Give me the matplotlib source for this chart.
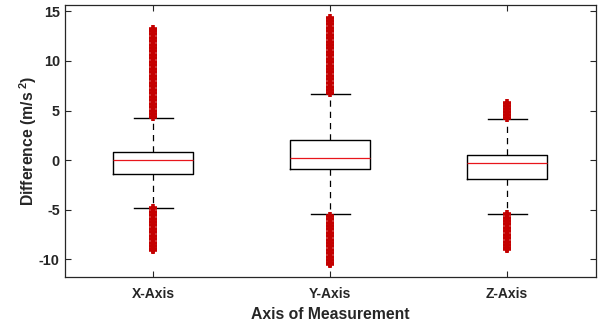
import matplotlib
matplotlib.use("Agg")
import matplotlib.pyplot as plt

categories = ["X-Axis", "Y-Axis", "Z-Axis"]
medians = [0.0, 0.17, -0.27]
q1 = [-1.41, -0.9, -1.85]
q3 = [0.84, 2.08, 0.5]
whisk_lo = [-4.77, -5.47, -5.4]
whisk_hi = [4.26, 6.65, 4.1]

x_out_hi = [4.35, 4.62, 4.98, 5.31, 5.7, 6.02, 6.41, 6.77, 7.1, 7.46, 7.8, 8.17, 8.5,
            8.88, 9.21, 9.57, 9.9, 10.26, 10.6, 10.95, 11.3, 11.63, 12.0, 12.33, 12.68,
            13.0, 13.2]
x_out_lo = [-4.85, -5.18, -5.52, -5.9, -6.23, -6.58, -6.92, -7.27, -7.6, -7.95, -8.3,
            -8.62, -8.9, -9.0]
y_out_hi = [6.75, 7.08, 7.42, 7.8, 8.13, 8.47, 8.84, 9.18, 9.52, 9.88, 10.21, 10.57,
            10.92, 11.26, 11.6, 11.95, 12.3, 12.64, 12.98, 13.33, 13.67, 14.0, 14.3]
y_out_lo = [-5.6, -5.93, -6.28, -6.62, -6.97, -7.31, -7.66, -8.0, -8.35, -8.69, -9.04,
            -9.38, -9.73, -10.07, -10.38, -10.5]
z_out_hi = [4.2, 4.52, 4.87, 5.2, 5.5, 5.75]
z_out_lo = [-5.45, -5.78, -6.12, -6.47, -6.81, -7.16, -7.5, -7.85, -8.2, -8.53, -8.8, -8.95]

outliers = [x_out_hi + x_out_lo, y_out_hi + y_out_lo, z_out_hi + z_out_lo]

yticks = [-10, -5, 0, 5, 10, 15]

plt.rcParams["font.family"] = ["Liberation Sans", "DejaVu Sans"]
plt.rcParams["font.weight"] = "bold"
plt.rcParams["mathtext.fontset"] = "custom"
plt.rcParams["mathtext.rm"] = "Liberation Sans:bold"
plt.rcParams["mathtext.bf"] = "Liberation Sans:bold"
plt.rcParams["mathtext.it"] = "Liberation Sans:bold"

fig = plt.figure(figsize=(6.0, 3.24), dpi=100)
ax = fig.add_axes([0.1078, 0.1441, 0.885, 0.8395])

stats = []
for i, c in enumerate(categories):
    stats.append(dict(label=c, med=medians[i], q1=q1[i], q3=q3[i],
                      whislo=whisk_lo[i], whishi=whisk_hi[i], fliers=outliers[i]))

ax.bxp(stats, positions=[1, 2, 3], widths=0.45, capwidths=0.22,
       boxprops=dict(color="black", linewidth=1.0),
       medianprops=dict(color="#e8151b", linewidth=0.9),
       whiskerprops=dict(color="black", linewidth=0.9, linestyle=(0, (5, 4))),
       capprops=dict(color="black", linewidth=1.0),
       flierprops=dict(marker="+", markeredgecolor="#c40000", markersize=5.6,
                       markeredgewidth=2.6, linestyle="none"))

ax.set_xlim(0.5, 3.5)
ax.set_ylim(-11.8, 15.6)
ax.set_yticks(yticks)
ax.set_yticklabels([str(v) for v in yticks])
ax.set_xticks([1, 2, 3])
ax.set_xticklabels(categories)

axis_col = "#262626"
for s in ax.spines.values():
    s.set_color(axis_col)
    s.set_linewidth(0.9)
ax.tick_params(direction="in", length=4, width=0.8, colors=axis_col,
               top=True, right=True)
ax.tick_params(axis="y", labelsize=10.4, pad=3.5)
ax.tick_params(axis="x", labelsize=10.0, pad=7)
for lab in ax.get_xticklabels() + ax.get_yticklabels():
    lab.set_fontweight("bold")
    lab.set_color(axis_col)

ax.set_xlabel("Axis of Measurement", fontsize=11.3, fontweight="bold", color=axis_col, labelpad=4)
ax.set_ylabel(r"Difference (m/s$^{\ 2}$)", fontsize=11.3, fontweight="bold", color=axis_col, labelpad=0)

fig.savefig("out.png", dpi=100)
